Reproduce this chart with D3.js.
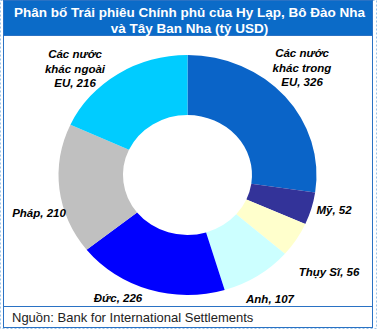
<!DOCTYPE html>
<html><head><meta charset="utf-8">
<script src="https://cdn.jsdelivr.net/npm/d3@7"></script>
<style>html,body{margin:0;padding:0;background:#fff;}svg{display:block;}</style>
</head><body>
<svg id="c" width="377" height="329"></svg>
<script>
const categories = ["Các nước khác trong EU", "Mỹ", "Thụy Sĩ", "Anh", "Đức", "Pháp", "Các nước khác ngoài EU"];
const values = [326, 52, 56, 107, 226, 210, 216];
const labelLines = [
  ["Các nước", "khác trong", "EU, 326"],
  ["Mỹ, 52"],
  ["Thụy Sĩ, 56"],
  ["Anh, 107"],
  ["Đức, 226"],
  ["Pháp, 210"],
  ["Các nước", "khác ngoài", "EU, 216"]
];
const colors = ["#0a64c8", "#333399", "#ffffcc", "#ccffff", "#0000ff", "#c0c0c0", "#00ccff"];
const titleLines = ["Phân bố Trái phiêu Chính phủ của Hy Lạp, Bô Đào Nha", "và Tây Ban Nha (tỷ USD)"];
const sourceText = "Nguồn: Bank for International Settlements";

// label anchor positions (layout)
const labelPos = [[302, 57], [334, 214], [329, 276], [270, 303], [118, 302], [39, 217], [75, 58]];

const svg = d3.select("#c");
const W = 377, H = 329;

// outer dotted frame
svg.append("rect").attr("x", 0.5).attr("y", 0.5).attr("width", W - 1).attr("height", H - 1)
  .attr("fill", "#fff").attr("stroke", "#9cc3e6").attr("stroke-dasharray", "2,2");
// panel
svg.append("rect").attr("x", 3.5).attr("y", 0.5).attr("width", 369).attr("height", 327)
  .attr("fill", "#fff").attr("stroke", "#2a72c4");
// title bar
svg.append("rect").attr("x", 3.5).attr("y", 0.5).attr("width", 369).attr("height", 35)
  .attr("fill", "#0b6bc8").attr("stroke", "#2a72c4");
svg.selectAll("text.title").data(titleLines).join("text").attr("class", "title")
  .attr("x", 189.5).attr("y", (d, i) => 16.5 + i * 16)
  .attr("text-anchor", "middle").attr("fill", "#fff")
  .style("font", "bold 13.5px 'Liberation Sans', Arial, sans-serif")
  .text(d => d);

// footer line
svg.append("line").attr("x1", 3.5).attr("x2", 372.5).attr("y1", 306.5).attr("y2", 306.5)
  .attr("stroke", "#2a72c4");
svg.append("text").attr("x", 12).attr("y", 322)
  .attr("fill", "#222")
  .style("font", "13px 'Liberation Sans', Arial, sans-serif")
  .text(sourceText);

// donut
const cx = 187.5, cy = 175, R = 129, r = 64.5, sy = 0.93;
const pie = d3.pie().sort(null).value(d => d)(values);
const arc = d3.arc().innerRadius(r).outerRadius(R);
const g = svg.append("g").attr("transform", `translate(${cx},${cy}) scale(1,${sy})`);
g.selectAll("path").data(pie).join("path")
  .attr("d", arc)
  .attr("fill", (d, i) => colors[i]);

// labels
const lg = svg.append("g")
  .style("font", "italic bold 11.5px 'Liberation Sans', Arial, sans-serif")
  .attr("fill", "#000");
labelLines.forEach((lines, i) => {
  const t = lg.append("text").attr("text-anchor", "middle");
  lines.forEach((ln, j) => {
    t.append("tspan").attr("x", labelPos[i][0]).attr("y", labelPos[i][1] + j * 14.5).text(ln);
  });
});
</script>
</body></html>
